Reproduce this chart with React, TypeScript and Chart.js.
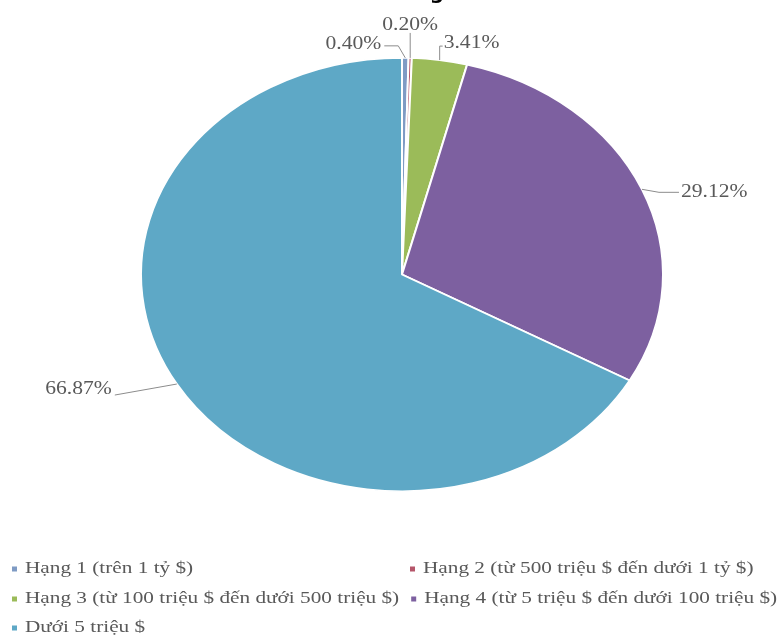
import React, { useEffect, useRef } from "react";
import { Chart, registerables } from "chart.js";

Chart.register(...registerables);

const categories = [
  "Hạng 1 (trên 1 tỷ $)",
  "Hạng 2 (từ 500 triệu $ đến dưới 1 tỷ $)",
  "Hạng 3 (từ 100 triệu $ đến dưới 500 triệu $)",
  "Hạng 4 (từ 5 triệu $ đến dưới 100 triệu $)",
  "Dưới 5 triệu $",
];
const shares = [0.4, 0.2, 3.41, 29.12, 66.87];
const valueLabels = ["0.40%", "0.20%", "3.41%", "29.12%", "66.87%"];
const colors = ["#7f9bc4", "#b5566a", "#9bbb59", "#7d60a0", "#5ea8c6"];
const legendRows = [[0, 1], [2, 3], [4]];

// layout of the leader lines / labels relative to each slice's anchor point
const labelLayout = [
  { pts: [[-7, -12], [-21, -12]], tx: -24, ty: -14, align: "right" },
  { pts: [[0, -25]], tx: 0, ty: -33, align: "center" },
  { pts: [[0, -14], [3, -14]], tx: 4, ty: -17, align: "left" },
  { pts: [[17, 3], [37, 3]], tx: 39, ty: 3, align: "left" },
  { pts: [[-62, 11]], tx: -65, ty: 5, align: "right" },
];

const SY = 217.5 / 262;
const FONT = '"Liberation Serif", "Times New Roman", serif';
const TEXT_COLOR = "#595959";

function stretchedText(ctx: CanvasRenderingContext2D, text: string, x: number, y: number, align: CanvasTextAlign, sx: number) {
  ctx.save();
  ctx.translate(x, y);
  ctx.scale(sx, 1);
  ctx.textAlign = align;
  ctx.textBaseline = "middle";
  ctx.fillText(text, 0, 0);
  const w = ctx.measureText(text).width * sx;
  ctx.restore();
  return w;
}

const ellipsePlugin = {
  id: "ellipse",
  beforeDatasetsDraw(chart: any) {
    const arc = chart.getDatasetMeta(0).data[0];
    const ctx = chart.ctx;
    ctx.save();
    ctx.translate(arc.x, arc.y);
    ctx.scale(1, SY);
    ctx.translate(-arc.x, -arc.y);
  },
  afterDatasetsDraw(chart: any) {
    chart.ctx.restore();
  },
  afterDraw(chart: any) {
    const ctx: CanvasRenderingContext2D = chart.ctx;
    const meta = chart.getDatasetMeta(0);
    // title fragment (cut off at the top edge)
    ctx.save();
    ctx.fillStyle = "#000";
    ctx.font = 'bold 20px "DejaVu Sans", sans-serif';
    ctx.textAlign = "center";
    ctx.textBaseline = "alphabetic";
    ctx.fillText("g", 437, -1);
    ctx.restore();

    // labels
    ctx.save();
    ctx.font = `18px ${FONT}`;
    ctx.fillStyle = TEXT_COLOR;
    ctx.strokeStyle = "#8c8c8c";
    ctx.lineWidth = 1;
    meta.data.forEach((arc: any, i: number) => {
      const mid = (arc.startAngle + arc.endAngle) / 2;
      const ax = arc.x + arc.outerRadius * Math.cos(mid);
      const ay = arc.y + arc.outerRadius * Math.sin(mid) * SY;
      const L = labelLayout[i];
      ctx.beginPath();
      ctx.moveTo(ax, ay);
      L.pts.forEach((p) => ctx.lineTo(ax + p[0], ay + p[1]));
      ctx.stroke();
      stretchedText(ctx, valueLabels[i], ax + L.tx, ay + L.ty, L.align as CanvasTextAlign, 1.2);
    });
    ctx.restore();

    // legend
    ctx.save();
    ctx.font = `17px ${FONT}`;
    ctx.fillStyle = TEXT_COLOR;
    const rowY = [569, 599, 628];
    legendRows.forEach((row, r) => {
      let end = 0;
      row.forEach((idx, c) => {
        const mx = c === 0 ? 12 : Math.max(410, end + 12);
        ctx.fillStyle = colors[idx];
        ctx.fillRect(mx, rowY[r] - 2.5, 5, 5);
        ctx.fillStyle = TEXT_COLOR;
        const w = stretchedText(ctx, categories[idx], mx + 13, rowY[r], "left", 1.25);
        end = mx + 13 + w;
      });
    });
    ctx.restore();
  },
};

export default function App() {
  const ref = useRef<HTMLCanvasElement>(null);
  useEffect(() => {
    const chart = new Chart(ref.current!, {
      type: "pie",
      data: {
        labels: categories,
        datasets: [
          {
            data: shares,
            backgroundColor: colors,
            borderColor: "#ffffff",
            borderWidth: 2,
          },
        ],
      },
      options: {
        responsive: false,
        animation: false,
        devicePixelRatio: 1,
        layout: { padding: { left: 140, right: 116, top: 12.5, bottom: 98.5 } },
        plugins: { legend: { display: false }, tooltip: { enabled: false } },
      },
      plugins: [ellipsePlugin],
    });
    return () => chart.destroy();
  }, []);
  return (
    <div style={{ position: "fixed", left: 0, top: 0, width: 780, height: 635, background: "#fff" }}>
      <canvas ref={ref} width={780} height={635} style={{ width: 780, height: 635 }} />
    </div>
  );
}
